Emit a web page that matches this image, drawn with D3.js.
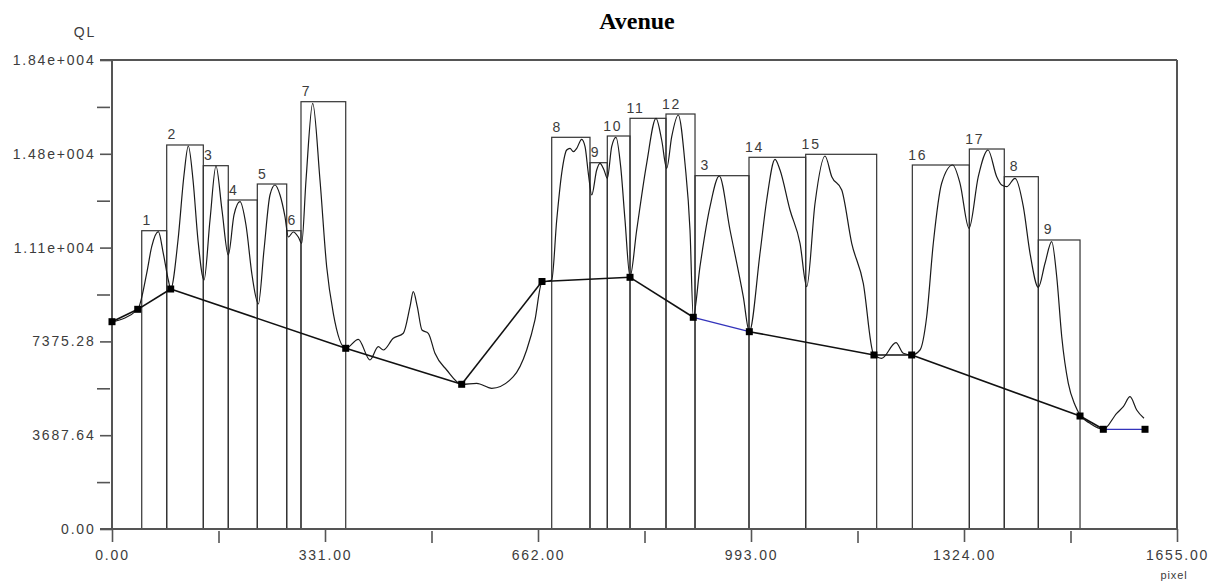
<!DOCTYPE html>
<html>
  <head>
    <title>Avenue</title>
    <meta charset="utf-8">
    <style>
      html, body {
        margin: 0;
        padding: 0;
        background: #ffffff;
      }
      .lbl {
        font-family: 'Liberation Sans', Arial, sans-serif;
        font-size: 14px;
        letter-spacing: 1.8px;
        fill: #3c3c3c;
      }
    </style>
  </head>
  <body>
    <script src="https://cdn.jsdelivr.net/npm/d3@7"></script>
    <div id="chart"></div>
    <script>

      // boxes (segments) : start pixel, end pixel, top QL
      var boxLabels = ['1','2','3','4','5','6','7','8','9','10','11','12','13','14','15','16','17','18','19']
      var boxStart = [46.2, 85.0, 141.9, 180.7, 225.8, 271.5, 293.7, 683.3, 742.8, 769.7, 805.0, 860.9, 906.0, 989.9, 1078.0, 1243.7, 1332.3, 1386.6, 1439.5]
      var boxEnd   = [85.0, 141.9, 180.7, 225.8, 271.5, 293.7, 363.2, 742.8, 769.7, 805.0, 860.9, 906.0, 989.9, 1078.0, 1188.3, 1332.3, 1386.6, 1439.5, 1504.3]
      var boxTop   = [11727, 15097, 14283, 12934, 13563, 11727, 16799, 15399, 14401, 15450, 16146, 16315, 13890, 14613, 14731, 14310, 14939, 13851, 11362]

      // QL profile
      var curveX = [0, 40, 53.9, 61.7, 72.0, 79.7, 87.5, 91.2, 102.6, 111.9, 118.6, 125.9, 133.6, 143.0, 152.3, 161.6, 170.9, 180.7,
                    189.6, 198.9, 208.2, 217.6, 227.4, 236.2, 245.5, 253.3, 261.1, 268.8, 274.0, 281.7, 289.5, 294.8, 301.5, 311.9,
                    323.2, 333.6, 343.9, 363.2, 382.8, 400.9, 413.8, 421.6, 437.1, 452.7, 463.1, 468.2, 474.4, 481.7, 491.5, 501.9,
                    520.1, 543.4, 566.7, 590.1, 623.6, 644.4, 657.3, 667.7, 683.3, 691.1, 698.8, 706.6, 711.7, 716.9, 722.2, 729.9,
                    735.1, 740.2, 745.5, 753.2, 758.3, 764.6, 769.7, 776.5, 783.2, 790.5, 797.2, 805.0, 815.4, 830.9, 845.4, 854.2,
                    862.0, 869.8, 880.0, 890.4, 898.2, 903.3, 913.7, 929.3, 943.7, 960.4, 981.0, 990.4, 1007.0, 1017.4, 1030.3, 1038.1,
                    1053.6, 1069.2, 1079.6, 1092.5, 1108.0, 1118.5, 1134.0, 1149.5, 1167.5, 1183.1, 1196.1, 1218.3, 1229.7, 1242.7,
                    1255.6, 1266.0, 1276.3, 1289.3, 1306.4, 1317.8, 1331.8, 1346.2, 1361.3, 1374.8, 1382.6, 1390.4, 1403.3, 1416.2,
                    1426.6, 1439.5, 1449.9, 1460.3, 1468.1, 1475.9, 1486.1, 1496.5, 1504.3, 1519.8, 1540.5, 1561.3, 1571.6, 1582.0,
                    1592.4, 1603.7]
      var curveY = [8138, 8637, 10052, 11098, 11688, 10839, 9789, 9435, 11362, 13917, 15057, 13721, 11362, 9789, 12148, 14271, 12541, 10772,
                    12345, 12868, 11951, 9986, 8846, 10969, 13131, 13524, 13131, 12278, 11480, 11676, 11480, 11232, 13721, 16736,
                    13721, 10312, 8480, 7104, 7458, 6644, 7167, 7037, 7497, 7694, 8740, 9329, 8740, 7823, 7694, 6907,
                    6251, 5689, 5728, 5532, 5987, 7037, 8217, 9671, 9789, 12148, 13984, 14900, 14967, 14833, 14967, 15320,
                    15030, 13984, 13131, 14114, 14377, 14114, 13787, 15030, 15399, 14244, 12148, 9919, 11755, 14377, 16146, 15293,
                    14180, 15423, 16276, 14377, 11755, 8346, 10312, 12671, 13878, 11755, 9133, 7757, 10839, 12934, 14535, 14114,
                    12541, 11232, 9526, 12805, 14664, 13851, 13327, 11232, 9659, 6907, 6711, 7324, 6907, 6841,
                    7037, 8346, 11232, 13591, 14310, 13591, 11822, 13851, 14900, 13851, 13524, 13457, 13787, 12671,
                    10839, 9502, 10446, 11295, 9919, 7560, 5728, 4875, 4482, 4155, 3920, 4549, 4808, 5201,
                    4678, 4352]

      // base line with markers, 'b' segments are blue
      var baseX = [0, 40, 91.2, 363.2, 543.4, 668.2, 805.0, 903.3, 990.4, 1184.1, 1242.7, 1504.3, 1540.5, 1605.3]
      var baseY = [8150, 8637, 9435, 7104, 5689, 9730, 9895, 8323, 7757, 6841, 6841, 4442, 3920, 3920]
      var segColor = ['k','k','k','k','k','k','k','b','k','k','k','k','b']

      // axes
      var xTicks = [0, 331, 662, 993, 1324, 1655]
      var xTickLabels = ['0.00', '331.00', '662.00', '993.00', '1324.00', '1655.00']
      var xMinor = [165.5, 496.5, 827.5, 1158.5, 1489.5]
      var yTicks = [0, 3687.64, 7375.28, 11062.92, 14750.56, 18438.2]
      var yTickLabels = ['0.00', '3687.64', '7375.28', '1.11e+004', '1.48e+004', '1.84e+004']
      var yMinor = [1843.82, 5531.46, 9219.1, 12906.74, 16594.38]


      var svg = d3.select('#chart')
        .append('svg')
        .attr('width', 1211)
        .attr('height', 581)

      var x = d3.scaleLinear()
        .domain([0, 1655])
        .range([112, 1177])

      var y = d3.scaleLinear()
        .domain([0, 18438.2])
        .range([529, 60])

      // Title + axis names
      svg.append('text')
        .attr('x', 637)
        .attr('y', 29)
        .attr('text-anchor', 'middle')
        .style('font-family', "'Liberation Serif', 'Times New Roman', serif")
        .style('font-weight', 'bold')
        .style('font-size', '24px')
        .style('fill', '#000')
        .text('Avenue')

      svg.append('text')
        .attr('class', 'lbl')
        .attr('x', 85)
        .attr('y', 36.5)
        .attr('text-anchor', 'middle')
        .text('QL')

      svg.append('text')
        .attr('class', 'lbl')
        .attr('x', 1174)
        .attr('y', 579)
        .attr('text-anchor', 'middle')
        .style('font-size', '11px')
        .style('letter-spacing', '0.9px')
        .text('pixel')

      // Y axis
      var yAxis = svg.append('g')
        .attr('transform', 'translate(112,0)')
        .call(d3.axisLeft(y).tickValues(yTicks).tickFormat(function(d, i){ return yTickLabels[i] })
          .tickSize(12).tickPadding(4.5))
      yAxis.select('.domain').remove()

      var yAxisMinor = svg.append('g')
        .attr('transform', 'translate(110,0)')
        .call(d3.axisLeft(y).tickValues(yMinor).tickFormat('').tickSize(13))
      yAxisMinor.select('.domain').remove()

      // X axis
      var xAxis = svg.append('g')
        .attr('transform', 'translate(0,529)')
        .call(d3.axisBottom(x).tickValues(xTicks).tickFormat(function(d, i){ return xTickLabels[i] })
          .tickSize(13).tickPadding(8))
      xAxis.select('.domain').remove()

      var xAxisMinor = svg.append('g')
        .attr('transform', 'translate(0,531)')
        .call(d3.axisBottom(x).tickValues(xMinor).tickFormat('').tickSize(12))
      xAxisMinor.select('.domain').remove()

      svg.selectAll('.tick line')
        .attr('stroke', '#555')
        .attr('stroke-width', 1.6)

      svg.selectAll('.tick text')
        .attr('class', 'lbl')
        .attr('font-family', null)
        .attr('font-size', null)
        .attr('fill', null)

      // Box labels : a 2-digit label that sits inside the height of the box
      // before it gets its left part hidden by that box (like the original plot)
      var defs = svg.append('defs')
      boxLabels.forEach(function(d, i){
        var hidden = i > 0 && d.length > 1 && boxEnd[i-1] == boxStart[i] && y(boxTop[i]) - 16 > y(boxTop[i-1])
        defs.append('clipPath')
          .attr('id', 'lclip' + i)
          .append('rect')
          .attr('x', hidden ? x(boxStart[i]) + 4 : 0)
          .attr('y', 0)
          .attr('width', 1211)
          .attr('height', 581)
      })

      svg.append('g')
        .selectAll('text')
        .data(boxLabels)
        .enter()
        .append('text')
        .attr('class', 'lbl')
        .attr('text-anchor', 'middle')
        .attr('clip-path', function(d, i){ return 'url(#lclip' + i + ')' })
        .attr('x', function(d, i){ return x(boxStart[i]) + 5.5 })
        .attr('y', function(d, i){ return y(boxTop[i]) - 5.5 })
        .text(function(d){ return d })

      // Boxes
      svg.append('g')
        .selectAll('rect')
        .data(boxLabels)
        .enter()
        .append('rect')
        .attr('x', function(d, i){ return x(boxStart[i]) })
        .attr('y', function(d, i){ return y(boxTop[i]) })
        .attr('width', function(d, i){ return x(boxEnd[i]) - x(boxStart[i]) })
        .attr('height', function(d, i){ return y(0) - y(boxTop[i]) })
        .attr('fill', 'none')
        .attr('stroke', '#333')
        .attr('stroke-width', 1.2)

      // Frame
      var frame = svg.append('g')
        .attr('stroke', '#555')
        .attr('stroke-width', 2)
      frame.append('line').attr('x1', 100).attr('x2', x(1655)).attr('y1', y(18438.2)).attr('y2', y(18438.2))
      frame.append('line').attr('x1', 100).attr('x2', x(1655)).attr('y1', y(0)).attr('y2', y(0))
      frame.append('line').attr('x1', x(0)).attr('x2', x(0)).attr('y1', y(18438.2)).attr('y2', y(0))
      frame.append('line').attr('x1', x(1655)).attr('x2', x(1655)).attr('y1', y(18438.2)).attr('y2', y(0))

      // QL profile
      var curveData = curveX.map(function(d, i){ return [d, curveY[i]] })
      var line = d3.line()
        .x(function(d){ return x(d[0]) })
        .y(function(d){ return y(d[1]) })
        .curve(d3.curveMonotoneX)

      svg.append('path')
        .datum(curveData)
        .attr('d', line)
        .attr('fill', 'none')
        .attr('stroke', '#1a1a1a')
        .attr('stroke-width', 1.2)

      // Base line segments
      var segs = segColor.map(function(c, i){
        return {x1: baseX[i], y1: baseY[i], x2: baseX[i+1], y2: baseY[i+1], c: c}
      })

      svg.append('g')
        .selectAll('line')
        .data(segs)
        .enter()
        .append('line')
        .attr('x1', function(d){ return x(d.x1) })
        .attr('y1', function(d){ return y(d.y1) })
        .attr('x2', function(d){ return x(d.x2) })
        .attr('y2', function(d){ return y(d.y2) })
        .attr('stroke', function(d){ return d.c == 'b' ? '#3333bb' : '#111' })
        .attr('stroke-width', function(d){ return d.c == 'b' ? 1.3 : 1.6 })

      // Markers
      svg.append('g')
        .selectAll('rect')
        .data(baseX)
        .enter()
        .append('rect')
        .attr('x', function(d){ return x(d) - 3.5 })
        .attr('y', function(d, i){ return y(baseY[i]) - 3.5 })
        .attr('width', 7)
        .attr('height', 7)
        .attr('fill', '#000')

    </script>
  </body>
</html>
